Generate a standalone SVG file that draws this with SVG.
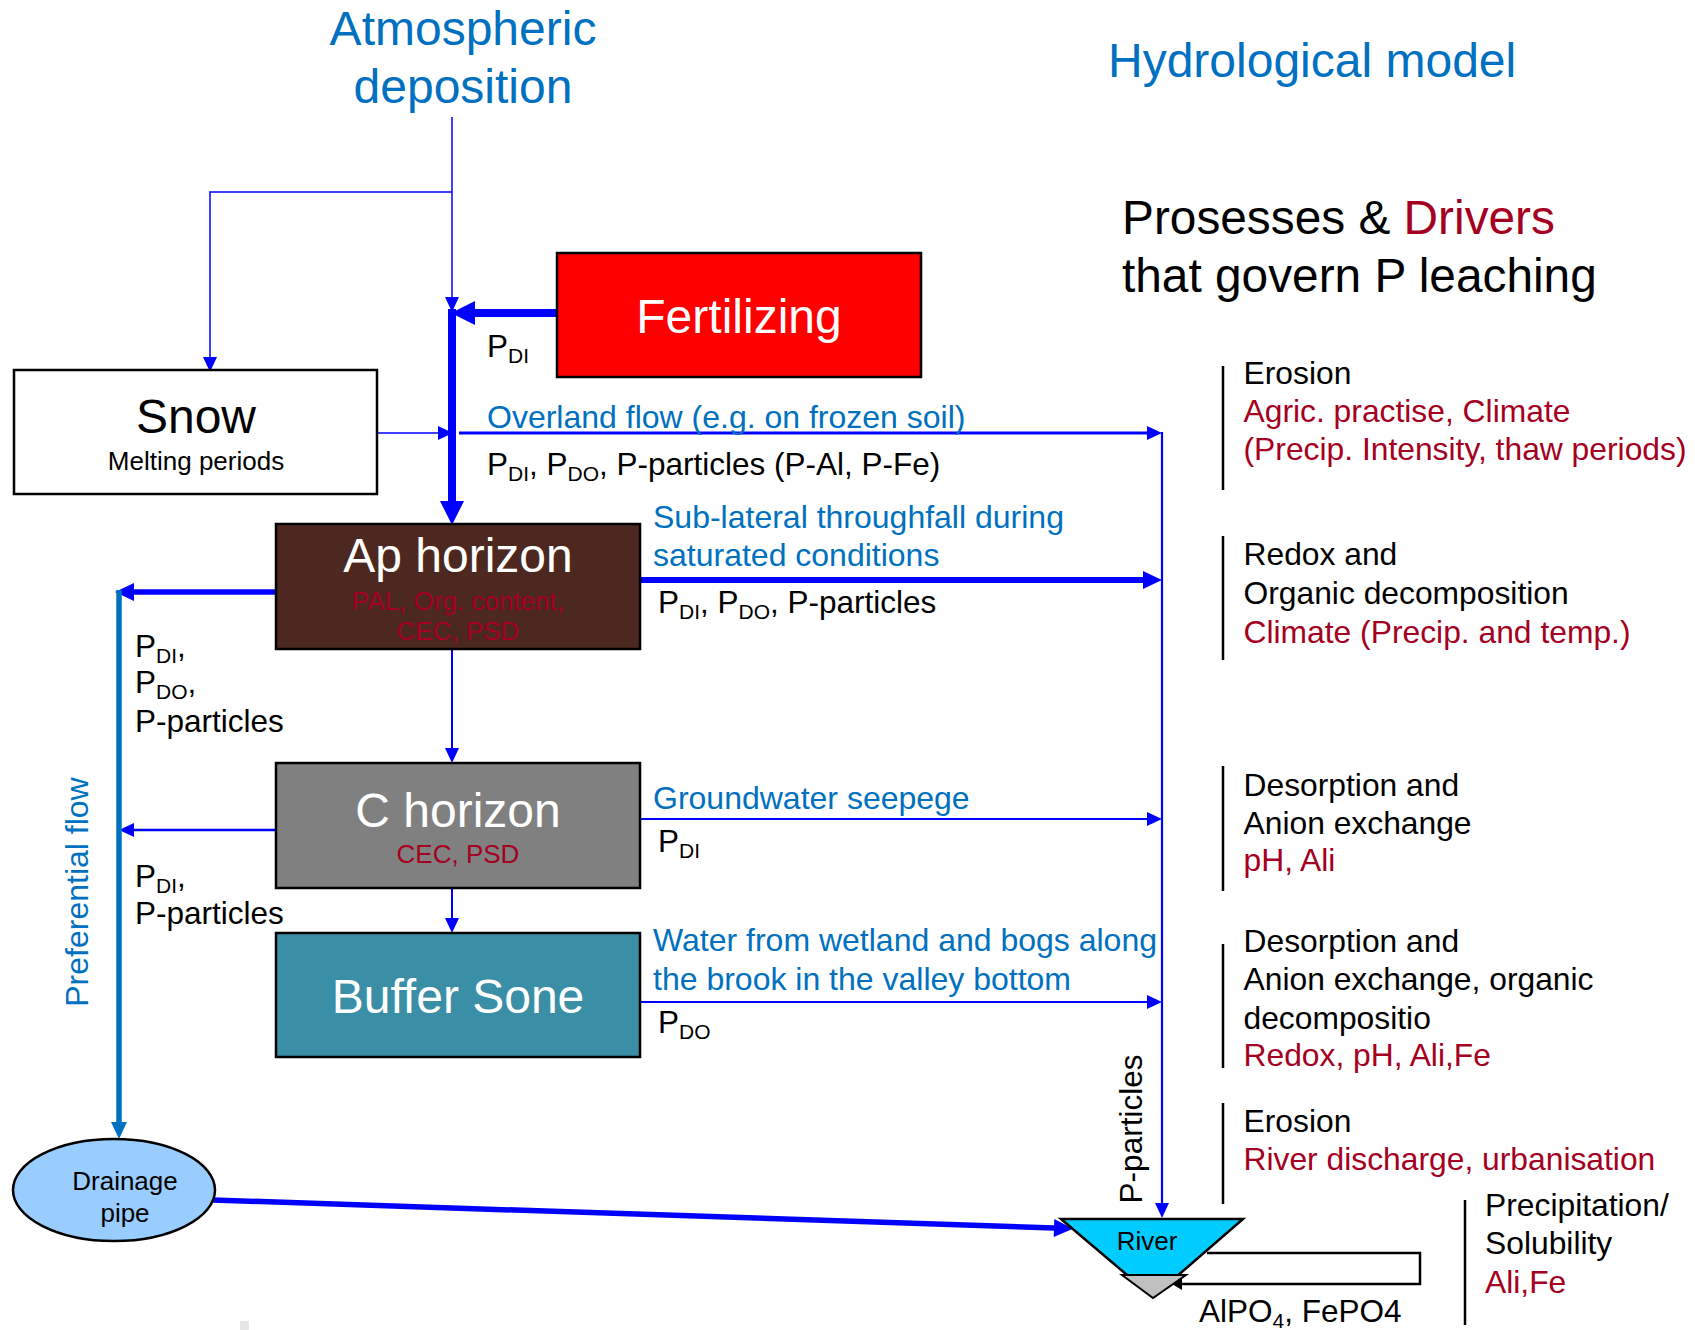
<svg xmlns="http://www.w3.org/2000/svg" width="1695" height="1330" viewBox="0 0 1695 1330">
<style>
text{font-family:"Liberation Sans",Arial,sans-serif;}
.title{font-size:48px;fill:#0070C0;}
.hdr{font-size:47.8px;fill:#000;}
.box{stroke:#000;stroke-width:2.5;}
.big{font-size:48px;fill:#fff;text-anchor:middle;}
.small{font-size:26px;text-anchor:middle;}
.blue{font-size:32px;fill:#0070C0;}
.lab{font-size:31.5px;fill:#000;}
.sub{font-size:21px;}
.proc{font-size:31.8px;fill:#000;}
.bar{stroke:#000;stroke-width:2.5;fill:none;}
.ln{stroke:#0000FF;fill:none;}
.drv{fill:#A50021;}
</style>
<defs>
<marker id="aT" markerUnits="userSpaceOnUse" markerWidth="15" markerHeight="14" refX="0" refY="7" orient="auto" overflow="visible"><path d="M0,0 L15,7 L0,14 z" fill="#0000FF"/></marker>
<marker id="aM" markerUnits="userSpaceOnUse" markerWidth="19" markerHeight="18" refX="0" refY="9" orient="auto" overflow="visible"><path d="M0,0 L19,9 L0,18 z" fill="#0000FF"/></marker>
<marker id="aK" markerUnits="userSpaceOnUse" markerWidth="24" markerHeight="24" refX="0" refY="12" orient="auto" overflow="visible"><path d="M0,0 L24,12 L0,24 z" fill="#0000FF"/></marker>
<marker id="aP" markerUnits="userSpaceOnUse" markerWidth="17" markerHeight="16" refX="0" refY="8" orient="auto" overflow="visible"><path d="M0,0 L17,8 L0,16 z" fill="#0070C0"/></marker>
<marker id="aB" markerUnits="userSpaceOnUse" markerWidth="10" markerHeight="12" refX="0" refY="6" orient="auto" overflow="visible"><path d="M0,0 L10,6 L0,12 z" fill="#000"/></marker>
</defs>
<rect width="1695" height="1330" fill="#fff"/>

<g id="headings">
<text class="title" x="463" y="45" text-anchor="middle">Atmospheric</text>
<text class="title" x="463" y="103" text-anchor="middle">deposition</text>
<text class="title" x="1108" y="77">Hydrological model</text>
<text class="hdr" x="1122" y="234">Prosesses &amp; <tspan class="drv">Drivers</tspan></text>
<text class="hdr" x="1122" y="292">that govern P leaching</text>
</g>

<g id="connectors">
<path class="ln" stroke-width="1.5" d="M452,117 V297" marker-end="url(#aT)"/>
<path class="ln" stroke-width="1.5" d="M452,192 H210 V357" marker-end="url(#aT)"/>
<path class="ln" stroke-width="8" d="M557,313 H475" marker-end="url(#aK)"/>
<path class="ln" stroke-width="8" d="M452,309 V501" marker-end="url(#aK)"/>
<path class="ln" stroke-width="1.5" d="M377,433 H438" marker-end="url(#aT)"/>
<path class="ln" stroke-width="3" d="M459,433 H1147" marker-end="url(#aT)"/>
<path class="ln" stroke-width="2.2" d="M1162,432 V1203" marker-end="url(#aT)"/>
<path class="ln" stroke-width="6" d="M640,580 H1143" marker-end="url(#aM)"/>
<path class="ln" stroke-width="2.2" d="M640,819 H1147" marker-end="url(#aT)"/>
<path class="ln" stroke-width="2.2" d="M640,1002 H1147" marker-end="url(#aT)"/>
<path class="ln" stroke-width="5.5" d="M276,592 H134" marker-end="url(#aM)"/>
<path class="ln" stroke-width="2.5" d="M276,830 H134" marker-end="url(#aT)"/>
<path d="M119,590 V1122" stroke="#0070C0" stroke-width="5.5" fill="none" marker-end="url(#aP)"/>
<path class="ln" stroke-width="2" d="M452,649 V748" marker-end="url(#aT)"/>
<path class="ln" stroke-width="2" d="M452,888 V918" marker-end="url(#aT)"/>
<path class="ln" stroke-width="5.5" d="M213,1200 L1054,1228" marker-end="url(#aM)"/>
<path d="M1207,1253 H1420 V1284 H1182" stroke="#000" stroke-width="2.5" fill="none" marker-end="url(#aB)"/>
</g>

<g id="labels">
<text class="lab" x="487" y="357">P<tspan class="sub" dy="6">DI</tspan></text>
<text class="blue" x="487" y="428">Overland flow (e.g. on frozen soil)</text>
<text class="lab" x="487" y="475">P<tspan class="sub" dy="6">DI</tspan><tspan dy="-6">, P</tspan><tspan class="sub" dy="6">DO</tspan><tspan dy="-6">, P-particles (P-Al, P-Fe)</tspan></text>
<text class="blue" x="653" y="528">Sub-lateral throughfall during</text>
<text class="blue" x="653" y="566">saturated conditions</text>
<text class="lab" x="658" y="613">P<tspan class="sub" dy="6">DI</tspan><tspan dy="-6">, P</tspan><tspan class="sub" dy="6">DO</tspan><tspan dy="-6">, P-particles</tspan></text>
<text class="blue" x="653" y="809">Groundwater seepege</text>
<text class="lab" x="658" y="852">P<tspan class="sub" dy="6">DI</tspan></text>
<text class="blue" x="653" y="951">Water from wetland and bogs along</text>
<text class="blue" x="653" y="990">the brook in the valley bottom</text>
<text class="lab" x="658" y="1033">P<tspan class="sub" dy="6">DO</tspan></text>
<text class="lab" x="135" y="657">P<tspan class="sub" dy="6">DI</tspan><tspan dy="-6">,</tspan></text>
<text class="lab" x="135" y="693">P<tspan class="sub" dy="6">DO</tspan><tspan dy="-6">,</tspan></text>
<text class="lab" x="135" y="732">P-particles</text>
<text class="lab" x="135" y="887">P<tspan class="sub" dy="6">DI</tspan><tspan dy="-6">,</tspan></text>
<text class="lab" x="135" y="924">P-particles</text>
<text class="blue" text-anchor="middle" transform="translate(88,892) rotate(-90)">Preferential flow</text>
<text class="lab" text-anchor="middle" transform="translate(1142,1129) rotate(-90)">P-particles</text>
<text class="lab" x="1199" y="1322">AlPO<tspan class="sub" dy="6">4</tspan><tspan dy="-6">, FePO4</tspan></text>
</g>

<g id="snow">
<rect class="box" x="14" y="370" width="363" height="124" fill="#fff"/>
<text x="196" y="433" font-size="48" text-anchor="middle">Snow</text>
<text x="196" y="470" font-size="26" text-anchor="middle">Melting periods</text>
</g>

<g id="fertilizing">
<rect class="box" x="557" y="253" width="364" height="124" fill="#FF0000"/>
<text class="big" x="739" y="333">Fertilizing</text>
</g>

<g id="ap-horizon">
<rect class="box" x="276" y="524" width="364" height="125" fill="#4D2820"/>
<text class="big" x="458" y="572">Ap horizon</text>
<text class="small drv" x="458" y="610">PAL, Org. content,</text>
<text class="small drv" x="458" y="640">CEC, PSD</text>
</g>

<g id="c-horizon">
<rect class="box" x="276" y="763" width="364" height="125" fill="#808080"/>
<text class="big" x="458" y="827">C horizon</text>
<text class="small drv" x="458" y="863">CEC, PSD</text>
</g>

<g id="buffer-sone">
<rect class="box" x="276" y="933" width="364" height="124" fill="#3A8FA6"/>
<text class="big" x="458" y="1013">Buffer Sone</text>
</g>

<g id="drainage-pipe">
<ellipse cx="114" cy="1190" rx="101" ry="51" fill="#99CCFF" stroke="#000" stroke-width="2.5"/>
<text class="small" x="125" y="1190">Drainage</text>
<text class="small" x="125" y="1222">pipe</text>
</g>

<g id="river">
<polygon points="1061,1219 1243,1219 1153,1297" fill="#00CCFF" stroke="#000" stroke-width="2.5"/>
<polygon points="1122,1275 1186,1275 1153,1298" fill="#C0C0C0" stroke="#000" stroke-width="2"/>
<text class="small" x="1147" y="1250">River</text>
</g>

<g id="processes">
<path class="bar" d="M1223,366 V490 M1223,536 V660 M1223,766 V891 M1223,944 V1068 M1223,1103 V1204 M1465,1200 V1325"/>
<text class="proc" x="1243.5" y="384">Erosion</text>
<text class="proc drv" x="1243.5" y="422">Agric. practise, Climate</text>
<text class="proc drv" x="1243.5" y="460">(Precip. Intensity, thaw periods)</text>
<text class="proc" x="1243.5" y="565">Redox and</text>
<text class="proc" x="1243.5" y="604">Organic decomposition</text>
<text class="proc drv" x="1243.5" y="643">Climate (Precip. and temp.)</text>
<text class="proc" x="1243.5" y="796">Desorption and</text>
<text class="proc" x="1243.5" y="834">Anion exchange</text>
<text class="proc drv" x="1243.5" y="871">pH, Ali</text>
<text class="proc" x="1243.5" y="952">Desorption and</text>
<text class="proc" x="1243.5" y="990">Anion exchange, organic</text>
<text class="proc" x="1243.5" y="1029">decompositio</text>
<text class="proc drv" x="1243.5" y="1066">Redox, pH, Ali,Fe</text>
<text class="proc" x="1243.5" y="1132">Erosion</text>
<text class="proc drv" x="1243.5" y="1170">River discharge, urbanisation</text>
<text class="proc" x="1485" y="1216">Precipitation/</text>
<text class="proc" x="1485" y="1254">Solubility</text>
<text class="proc drv" x="1485" y="1293">Ali,Fe</text>
</g>
<rect x="240" y="1321" width="9" height="9" fill="#E6E6E6"/>
</svg>
